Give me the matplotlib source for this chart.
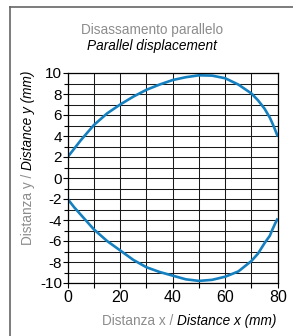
import matplotlib.pyplot as plt
from matplotlib.lines import Line2D
from matplotlib.ticker import MultipleLocator

# upper branch of the displacement curve
x_upper = [0, 2.5, 5, 10, 15, 20, 25, 30, 35, 40, 45, 50, 55, 60, 65, 70, 72.5, 75, 77, 78, 79, 80]
y_upper = [2.0, 2.8, 3.6, 5.05, 6.15, 7.0, 7.75, 8.4, 8.9, 9.33, 9.6, 9.78, 9.75, 9.5, 8.9, 8.05,
           7.4, 6.6, 5.75, 5.2, 4.6, 3.95]

# lower branch
x_lower = [0, 2.5, 5, 10, 15, 20, 25, 30, 35, 40, 45, 50, 55, 60, 65, 70, 72.5, 75, 77, 78, 79, 80]
y_lower = [-2.0, -2.8, -3.5, -4.9, -6.0, -6.9, -7.8, -8.5, -8.95, -9.3, -9.65, -9.8, -9.7, -9.4,
           -8.9, -7.9, -7.2, -6.2, -5.5, -4.9, -4.35, -3.85]

x_ticks = [0, 20, 40, 60, 80]
y_ticks = [-10, -8, -6, -4, -2, 0, 2, 4, 6, 8, 10]

plt.rcParams['font.family'] = ['Liberation Sans', 'DejaVu Sans']
plt.rcParams['axes.unicode_minus'] = False

blue = '#1580c0'
grey = '#8c8c8c'

fig = plt.figure(figsize=(2.93, 3.36), dpi=100)
ax = fig.add_axes([67.7 / 293, 1 - 283 / 336, 210 / 293, 210 / 336])

ax.plot(x_upper, y_upper, color=blue, lw=1.9, solid_capstyle='butt', solid_joinstyle='round')
ax.plot(x_lower, y_lower, color=blue, lw=1.9, solid_capstyle='butt', solid_joinstyle='round')

ax.set_xlim(0, 80)
ax.set_ylim(-10, 10)
ax.set_xticks(x_ticks)
ax.set_yticks(y_ticks)
ax.xaxis.set_minor_locator(MultipleLocator(10))
ax.yaxis.set_minor_locator(MultipleLocator(1))
ax.grid(True, which='both', color='#1a1a1a', lw=0.75)
ax.set_axisbelow(True)

ax.tick_params(axis='both', which='both', direction='out', color='black', width=0.8)
ax.tick_params(axis='y', which='major', length=3.5, pad=0.5, labelsize=11)
ax.tick_params(axis='y', which='minor', length=3)
ax.tick_params(axis='x', which='major', length=3.8, pad=1.5, labelsize=11.5)
ax.tick_params(axis='x', which='minor', length=3.8)
for s in ax.spines.values():
    s.set_linewidth(0.9)
    s.set_color('black')

# titles
fig.text(0.518, 0.899, 'Disassamento parallelo', color=grey, fontsize=9.8,
         ha='center', va='baseline')
fig.text(0.518, 0.851, 'Parallel displacement', color='black', fontsize=9.8,
         style='italic', ha='center', va='baseline')

# x label in two colours
fig.text(177 / 293, 0.033, 'Distanza x / ', color=grey, fontsize=9.8,
         ha='right', va='baseline')
fig.text(177 / 293, 0.033, 'Distance x (mm)', color='black', fontsize=9.8,
         style='italic', ha='left', va='baseline')

# y label in two colours
fig.text(32 / 293, 1 - 170 / 336, 'Distanza y / ', color=grey, fontsize=9.8,
         rotation=90, rotation_mode='anchor', ha='right', va='baseline')
fig.text(32 / 293, 1 - 170 / 336, 'Distance y (mm)', color='black', fontsize=9.8,
         style='italic', rotation=90, rotation_mode='anchor', ha='left', va='baseline')

# open frame (top and left)
fig.add_artist(Line2D([10 / 293, 10 / 293], [0, 1 - 7 / 336], color='#666666', lw=1.2))
fig.add_artist(Line2D([10 / 293, 1], [1 - 7 / 336, 1 - 7 / 336], color='#666666', lw=1.2))

fig.savefig('out.png', dpi=100)
